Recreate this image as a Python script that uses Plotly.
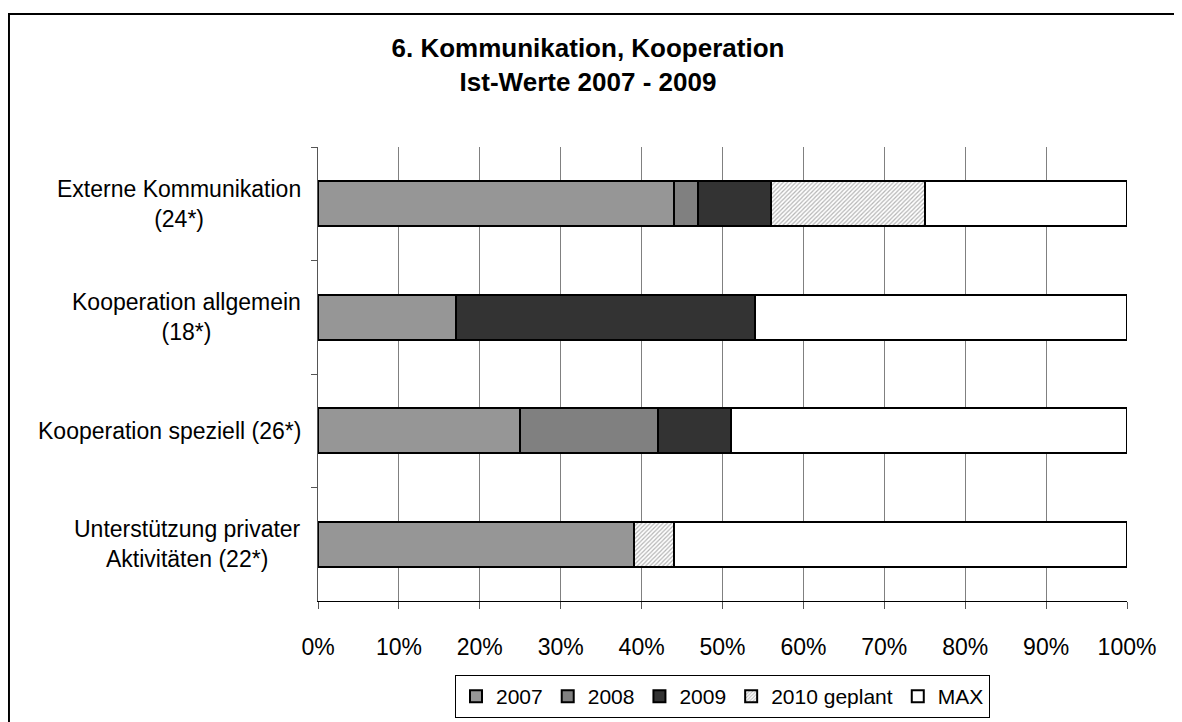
import plotly.graph_objects as go

categories = ["Externe Kommunikation<br>(24*)", "Kooperation allgemein<br>(18*)",
              "Kooperation speziell (26*)", "Unterstützung privater<br>Aktivitäten (22*)"]
series_names = ["2007", "2008", "2009", "2010 geplant", "MAX"]
v2007 = [44, 17, 25, 39]
v2008 = [3, 0, 17, 0]
v2009 = [9, 37, 9, 0]
v2010 = [19, 0, 0, 5]
vmax = [25, 46, 49, 56]
x_ticks = [0, 10, 20, 30, 40, 50, 60, 70, 80, 90, 100]
x_tick_labels = [f"{t}%" for t in x_ticks]

values = [v2007, v2008, v2009, v2010, vmax]
colors = ["#969696", "#808080", "#333333", "#ffffff", "#ffffff"]

FONT = "Liberation Sans, Arial, sans-serif"
fig = go.Figure()
for name, vals, col in zip(series_names, values, colors):
    marker = dict(color=col, line=dict(color="black", width=2))
    if name == "2010 geplant":
        marker["pattern"] = dict(shape="/", fgcolor="#6a6a6a", bgcolor="#ffffff",
                                 size=3, solidity=0.4)
    fig.add_trace(go.Bar(x=vals, y=categories, orientation="h", name=name,
                         marker=marker))

for c in categories:
    fig.add_annotation(x=-0.0185, y=c, xref="paper", yref="y", text=c,
                       showarrow=False, xanchor="right", yanchor="middle",
                       align="center", font=dict(family=FONT, size=23, color="black"))

fig.add_shape(type="rect", xref="paper", yref="paper",
              x0=-0.382, y0=-0.5, x1=1.3, y1=1.2928,
              line=dict(color="black", width=2), fillcolor="rgba(0,0,0,0)", layer="above")

fig.update_layout(
    width=1182, height=722,
    barmode="stack", bargap=0.6,
    paper_bgcolor="white", plot_bgcolor="white",
    margin=dict(l=310, r=63, t=139, b=122),
    title=dict(text="<b>6. Kommunikation, Kooperation<br>Ist-Werte 2007 - 2009</b>",
               x=0.4907, xref="container", xanchor="center", y=0.932, yanchor="top",
               font=dict(family=FONT, size=26, color="black")),
    font=dict(family=FONT, size=22, color="black"),
    legend=dict(orientation="h", x=0.5, xanchor="center", y=-0.163, yanchor="top",
                bordercolor="black", borderwidth=1, font=dict(family=FONT, size=21),
                traceorder="normal", itemwidth=30, tracegroupgap=0),
    showlegend=True,
)
fig.update_xaxes(range=[0, 100], tickvals=x_ticks, ticktext=x_tick_labels,
                 showgrid=True, gridcolor="#808080", gridwidth=1,
                 showline=True, linecolor="black", linewidth=1,
                 ticks="outside", ticklen=7, tickcolor="#555555",
                 tickfont=dict(family=FONT, size=23), zeroline=False,
                 ticklabelstandoff=18)
fig.update_yaxes(autorange="reversed", showticklabels=False,
                 showline=True, linecolor="#555555", linewidth=1,
                 ticks="outside", ticklen=6, tickcolor="#555555", tickson="boundaries",
                 showgrid=False)

fig.write_html("out.html")
